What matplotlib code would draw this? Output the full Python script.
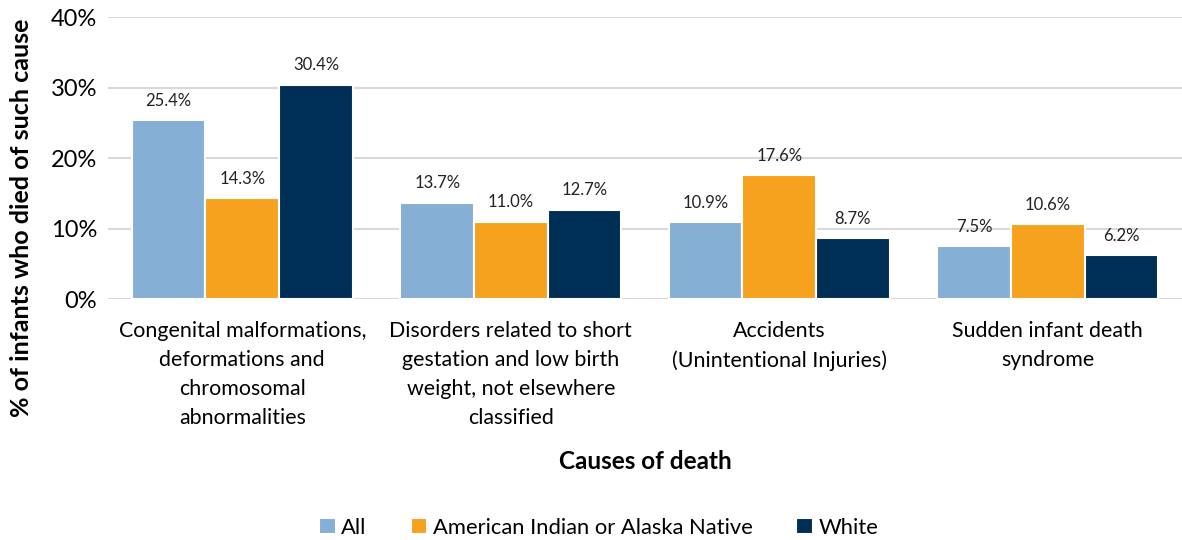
import numpy as np
import matplotlib
matplotlib.use("Agg")
from matplotlib import pyplot as plt
from matplotlib.ticker import PercentFormatter

plt.rcParams['font.family'] = ['Lato', 'DejaVu Sans']

categories = ["Congenital malformations,\ndeformations and\nchromosomal\nabnormalities",
              "Disorders related to short\ngestation and low birth\nweight, not elsewhere\nclassified",
              "Accidents\n(Unintentional Injuries)",
              "Sudden infant death\nsyndrome"]
series_names = ["All", "American Indian or Alaska Native", "White"]
all_vals = [25.4, 13.7, 10.9, 7.5]
aian_vals = [14.3, 11.0, 17.6, 10.6]
white_vals = [30.4, 12.7, 8.7, 6.2]
colors = ["#86AFD5", "#F7A21F", "#002F56"]

fig = plt.figure(figsize=(11.82, 5.4), dpi=100)
ax = fig.add_axes([0.0914, 0.446, 0.9086, 0.5225])

x = np.arange(len(categories))
w = 0.274
for i, (vals, name) in enumerate(zip([all_vals, aian_vals, white_vals], series_names)):
    pos = x + (i - 1) * w
    ax.bar(pos, vals, width=w, color=colors[i], edgecolor="white", linewidth=1.5,
           label=name, zorder=3)
    for p, v in zip(pos, vals):
        ax.text(p, v + 1.6, f"{v:.1f}%", ha="center", va="bottom", fontsize=12,
                color="#222222")

ax.set_xlim(-0.5, 3.5)
ax.set_ylim(0, 40)
ax.set_yticks([0, 10, 20, 30, 40])
ax.yaxis.set_major_formatter(PercentFormatter(decimals=0))
ax.grid(axis="y", color="#D9D9D9", linewidth=1.5, zorder=0)
for s in ["top", "right", "left", "bottom"]:
    ax.spines[s].set_visible(False)
ax.tick_params(axis="both", length=0)
ax.tick_params(axis="y", labelsize=17, pad=8)
ax.set_xticks(x)
ax.set_xticklabels(categories, fontsize=15.4, linespacing=1.55)
ax.tick_params(axis="x", pad=16)

ax.set_xlabel("Causes of death", fontsize=17.5, fontweight="bold", labelpad=16)
ax.set_ylabel("% of infants who died of such cause", fontsize=18, fontweight="bold")
ax.yaxis.set_label_coords(-0.07, 0.29)

ax.legend(loc="center", bbox_to_anchor=(0.457, -0.81), ncol=3, frameon=False,
          fontsize=15.8, handlelength=0.75, handleheight=0.75, handletextpad=0.25,
          columnspacing=2.0)

fig.savefig("out.png", dpi=100)
